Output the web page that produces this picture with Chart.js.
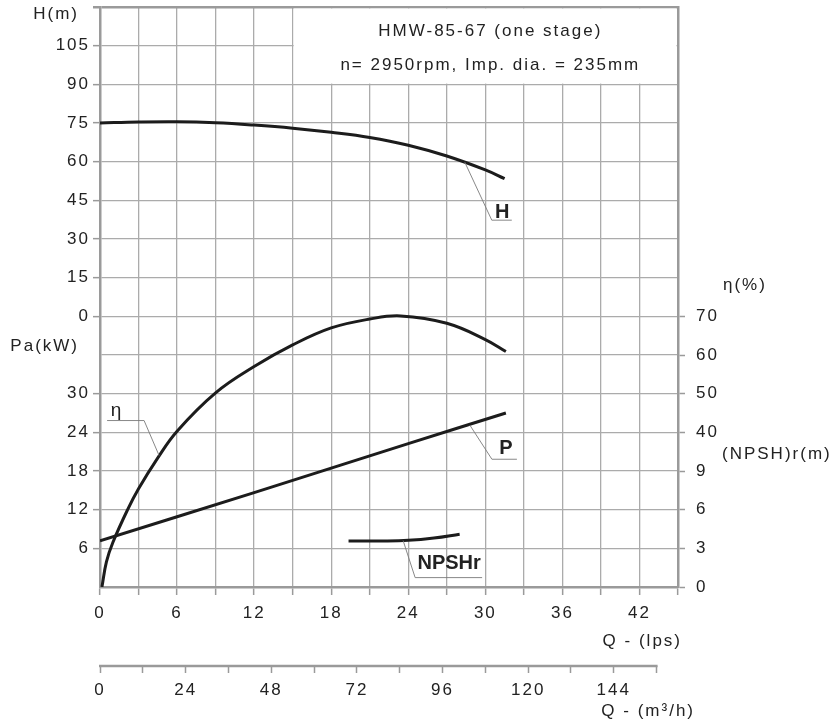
<!DOCTYPE html>
<html><head><meta charset="utf-8">
<script src="https://cdn.jsdelivr.net/npm/chart.js@4/dist/chart.umd.min.js"></script>
<style>html,body{margin:0;padding:0;background:#fff}canvas{display:block}</style>
</head><body>
<canvas id="c" width="831" height="724"></canvas>
<script>
// ---- curve values (Q in l/s) ----
const qHead  = [0, 3, 6, 9, 12, 15, 18, 21, 24, 27, 30, 31.5];
const head   = [75.0, 75.4, 75.5, 75.1, 74.2, 73.0, 71.4, 69.4, 66.4, 62.2, 56.8, 53.4];
const qEff   = [0.15, 0.5, 1.0, 2.15, 3, 4.5, 6, 9, 12, 15, 18, 21, 23.4, 27, 30, 31.6];
const eff    = [0, 6.5, 11.5, 20, 25.4, 33.4, 40.3, 50.2, 57.0, 62.6, 67.0, 69.3, 70.1, 68.2, 64.0, 60.9];
const qPower = [0, 12, 24, 31.6];
const power  = [7.15, 14.65, 22.25, 27.0];
const qNpsh  = [19.35, 22, 24, 26, 28];
const npsh   = [3.57, 3.57, 3.62, 3.8, 4.1];

// ---- tick labels ----
const qLpsTicks  = [0, 3, 6, 9, 12, 15, 18, 21, 24, 27, 30, 33, 36, 39, 42, 45];
const qLpsLabels = [0, 6, 12, 18, 24, 30, 36, 42];
const qM3Ticks   = [0, 12, 24, 36, 48, 60, 72, 84, 96, 108, 120, 132, 144, 156];
const qM3Labels  = [0, 24, 48, 72, 96, 120, 144];
const headTicks  = [0, 15, 30, 45, 60, 75, 90, 105];
const powerTicks = [6, 12, 18, 24, 30];
const effTicks   = [40, 50, 60, 70];
const npshTicks  = [0, 3, 6, 9];

// ---- shared 15-row grid: value per row and row where each quantity is zero ----
const ROWS = 15;
const rowAxes = {
  yH:   {step: 15, zeroRow: 7},
  yPa:  {step: 6,  zeroRow: 0},
  yEta: {step: 10, zeroRow: 0},
  yN:   {step: 3,  zeroRow: 0}
};
const rowValue = (id, r) => (r - rowAxes[id].zeroRow) * rowAxes[id].step;
const axisRange = id => ({min: rowValue(id, 0), max: rowValue(id, ROWS)});

function leftLabel(r) {
  if (r >= rowAxes.yH.zeroRow) { const v = rowValue('yH', r); return headTicks.includes(v) ? String(v) : ''; }
  const v = rowValue('yPa', r); return powerTicks.includes(v) ? String(v) : '';
}
function rightLabel(r) {
  if (r >= 4) { const v = rowValue('yEta', r); return effTicks.includes(v) ? String(v) : ''; }
  const v = rowValue('yN', r); return npshTicks.includes(v) ? String(v) : '';
}

const FONT = '"Liberation Sans", Arial, Helvetica, sans-serif';
const TXT = '#222';
const GRID = '#ababab';
const AXIS = '#9a9a9a';

const pts = (xs, ys) => xs.map((x, i) => ({x, y: ys[i]}));
const lineStyle = {borderColor: '#1c1c1c', borderWidth: 3, pointRadius: 0, fill: false,
  tension: 0.4, borderCapStyle: 'butt', borderJoinStyle: 'round', xAxisID: 'x'};

// callouts: anchor on the curve (data units), leader / label offsets in px
const callouts = [
  {text: 'H', bold: true, size: 20, axis: 'yH', at: [28.4, 59.8], elbow: [27, 58], end: [47, 58], label: [37.5, 50]},
  {text: 'P', bold: true, size: 20, axis: 'yPa', at: [28.8, 25.1], elbow: [22, 34], end: [47, 34], label: [36, 23]},
  {text: 'η', bold: false, size: 19, axis: 'yEta', at: [4.6, 34.0], elbow: [-15, -35], end: [-52, -35], label: [-43, -45]},
  {text: 'NPSHr', bold: true, size: 20, axis: 'yN', at: [23.6, 3.6], elbow: [12, 37], end: [79, 37], label: [46, 23]}
];

const deco = {
  id: 'deco',
  beforeDraw(chart) { chart.ctx.letterSpacing = '2px'; },
  beforeDatasetsDraw(chart) {
    const {ctx, chartArea: a, scales: s} = chart;
    ctx.save();
    // blank title box
    const x0 = s.x.getPixelForValue(15), x1 = s.x.getPixelForValue(45);
    const y1 = s.yH.getPixelForValue(90);
    ctx.fillStyle = '#fff';
    ctx.fillRect(x0 + 1, a.top + 1.5, x1 - x0 - 2.5, y1 - a.top - 2.2);
    // m3/h axis line
    const m = s.xm3;
    ctx.strokeStyle = AXIS; ctx.lineWidth = 2.5;
    ctx.beginPath();
    ctx.moveTo(m.getPixelForValue(qM3Ticks[0]) - 1, m.top);
    ctx.lineTo(m.getPixelForValue(qM3Ticks[qM3Ticks.length - 1]) + 1, m.top);
    ctx.stroke();
    ctx.restore();
  },
  afterDraw(chart) {
    const {ctx, chartArea: a, scales: s} = chart;
    ctx.save();
    ctx.fillStyle = TXT;
    ctx.textBaseline = 'middle';
    ctx.font = '17px ' + FONT;
    ctx.letterSpacing = '2px';
    // title
    const cx = (s.x.getPixelForValue(15) + s.x.getPixelForValue(45)) / 2 + 5;
    ctx.textAlign = 'center';
    ctx.fillText('HMW-85-67 (one stage)', cx, a.top + 24);
    ctx.fillText('n= 2950rpm, Imp. dia. = 235mm', cx, a.top + 58);
    // axis titles
    ctx.textAlign = 'right';
    ctx.fillText('H(m)', a.left - 21, s.yL.getPixelForValue(14.8));
    ctx.fillText('Pa(kW)', a.left - 21, s.yL.getPixelForValue(6.22));
    ctx.fillText('Q - (lps)', a.right + 4, s.x.top + 54);
    ctx.fillText('Q - (m³/h)', a.right + 17, s.xm3.top + 45);
    ctx.textAlign = 'left';
    ctx.fillText('η(%)', a.right + 45, s.yL.getPixelForValue(7.81));
    ctx.fillText('(NPSH)r(m)', a.right + 44, s.yL.getPixelForValue(3.44));
    // callouts
    ctx.letterSpacing = '0px';
    callouts.forEach(c => {
      const px = s.x.getPixelForValue(c.at[0]), py = s[c.axis].getPixelForValue(c.at[1]);
      ctx.strokeStyle = '#7a7a7a'; ctx.lineWidth = 0.9;
      ctx.beginPath();
      ctx.moveTo(px, py);
      ctx.lineTo(px + c.elbow[0], py + c.elbow[1]);
      ctx.lineTo(px + c.end[0], py + c.end[1]);
      ctx.stroke();
      ctx.font = (c.bold ? 'bold ' : '') + c.size + 'px ' + FONT;
      ctx.textAlign = 'center';
      ctx.fillText(c.text, px + c.label[0], py + c.label[1]);
    });
    ctx.restore();
  }
};

const tickFont = {family: FONT, size: 17};
const hidden = id => Object.assign({type: 'linear', display: false, position: 'left'}, axisRange(id));
const noPad = sc => { sc.paddingTop = 0; sc.paddingBottom = 0; sc.paddingLeft = 0; sc.paddingRight = 0; };

new Chart(document.getElementById('c'), {
  type: 'line',
  data: {
    datasets: [
      Object.assign({label: 'H', yAxisID: 'yH', data: pts(qHead, head)}, lineStyle),
      Object.assign({label: 'η', yAxisID: 'yEta', data: pts(qEff, eff)}, lineStyle),
      Object.assign({label: 'P', yAxisID: 'yPa', data: pts(qPower, power)}, lineStyle),
      Object.assign({label: 'NPSHr', yAxisID: 'yN', data: pts(qNpsh, npsh)}, lineStyle)
    ]
  },
  options: {
    responsive: false,
    devicePixelRatio: 1,
    animation: false,
    events: [],
    layout: {padding: {top: 7, left: 0, right: 0, bottom: 0}},
    plugins: {legend: {display: false}, tooltip: {enabled: false}},
    scales: {
      x: {
        type: 'linear', position: 'bottom', weight: 0,
        min: qLpsTicks[0], max: qLpsTicks[qLpsTicks.length - 1],
        afterBuildTicks: sc => { sc.ticks = qLpsTicks.map(v => ({value: v})); },
        afterFit: sc => { sc.height = 79; noPad(sc); },
        grid: {color: GRID, lineWidth: 1.3, tickLength: 8, tickColor: AXIS, tickWidth: 1.5},
        border: {color: AXIS, width: 2.5},
        ticks: {autoSkip: false, maxRotation: 0, padding: 8, font: tickFont, color: TXT,
          callback: v => qLpsLabels.includes(v) ? String(v) : ''}
      },
      xm3: {
        type: 'linear', position: 'bottom', weight: 1,
        min: 0, max: 162,
        afterBuildTicks: sc => { sc.ticks = qM3Ticks.map(v => ({value: v})); },
        afterFit: sc => { sc.height = 58; noPad(sc); },
        grid: {drawOnChartArea: false, tickLength: 7, tickColor: AXIS, tickWidth: 1.5},
        border: {display: false},
        ticks: {autoSkip: false, maxRotation: 0, padding: 7.5, font: tickFont, color: TXT,
          callback: v => qM3Labels.includes(v) ? String(v) : ''}
      },
      yL: {
        type: 'linear', position: 'left', min: 0, max: ROWS,
        afterBuildTicks: sc => { sc.ticks = Array.from({length: ROWS + 1}, (_, r) => ({value: r})); },
        afterFit: sc => { sc.width = 100; noPad(sc); },
        grid: {
          color: c => c.tick && c.tick.value === ROWS ? AXIS : GRID,
          lineWidth: c => c.tick && c.tick.value === ROWS ? 2.5 : 1.3,
          tickLength: 7,
          tickColor: c => (c.tick && (leftLabel(c.tick.value) !== '' || c.tick.value === ROWS)) ? AXIS : 'rgba(0,0,0,0)',
          tickWidth: c => c.tick && c.tick.value === ROWS ? 2.5 : 1.5
        },
        border: {color: AXIS, width: 2.5},
        ticks: {autoSkip: false, padding: 3, font: tickFont, color: TXT, callback: v => leftLabel(v)}
      },
      yR: {
        type: 'linear', position: 'right', min: 0, max: ROWS,
        afterBuildTicks: sc => { sc.ticks = Array.from({length: ROWS + 1}, (_, r) => ({value: r})); },
        afterFit: sc => { sc.width = 153; noPad(sc); },
        grid: {drawOnChartArea: false, tickLength: 7, tickWidth: 1.5,
          tickColor: c => (c.tick && rightLabel(c.tick.value) !== '') ? AXIS : 'rgba(0,0,0,0)'},
        border: {color: AXIS, width: 2.5},
        ticks: {autoSkip: false, padding: 11, font: tickFont, color: TXT, callback: v => rightLabel(v)}
      },
      yH: hidden('yH'),
      yPa: hidden('yPa'),
      yEta: hidden('yEta'),
      yN: hidden('yN')
    }
  },
  plugins: [deco]
});
</script>
</body></html>
